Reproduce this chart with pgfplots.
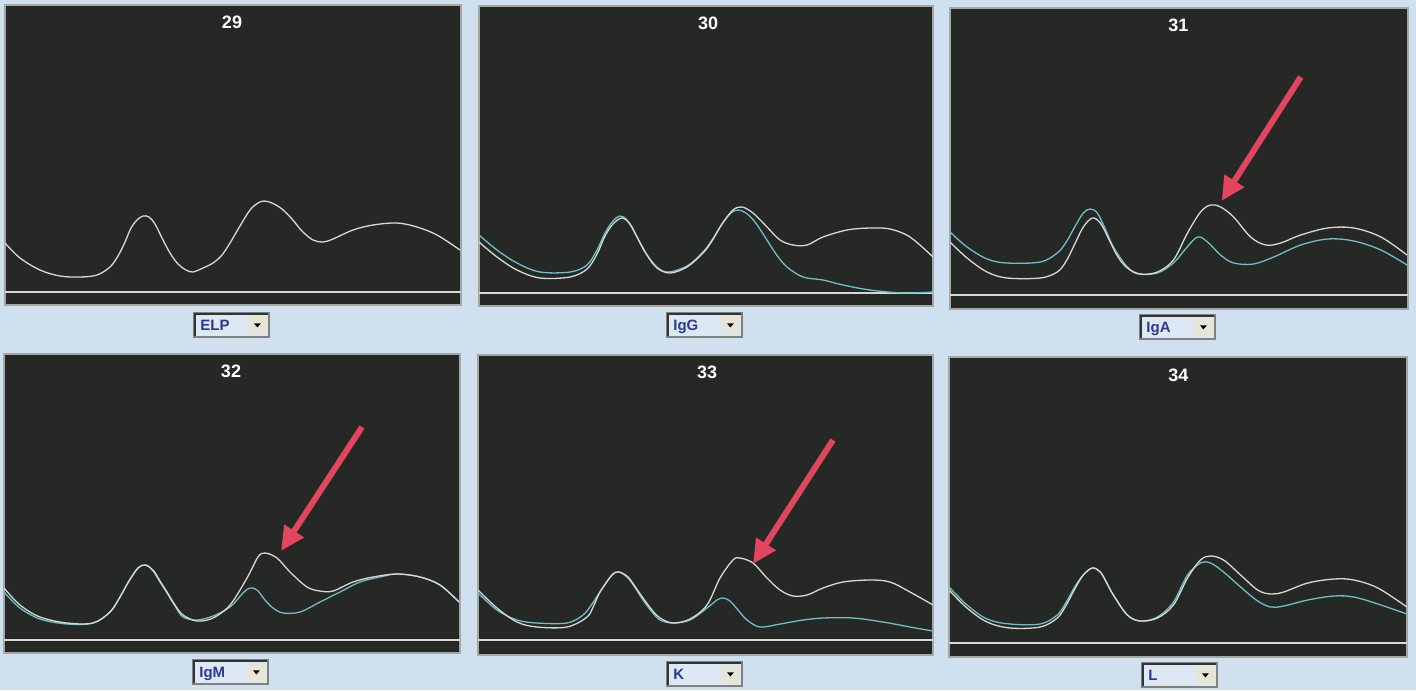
\documentclass[border=0pt]{standalone}
\usepackage{fontspec}
\setmainfont{Liberation Sans}
\usepackage{pgfplots}
\pgfplotsset{compat=1.18}
\usetikzlibrary{arrows.meta}
\definecolor{bgblue}{HTML}{CFE0EF}
\definecolor{panel}{HTML}{262826}
\definecolor{curvew}{HTML}{D6D9D6}
\definecolor{curvec}{HTML}{72BEC6}
\definecolor{arrowred}{HTML}{E2455E}
\definecolor{boxtext}{HTML}{2B3990}
\definecolor{boxfill}{HTML}{DCE8F3}
\definecolor{btn}{HTML}{E6E6D6}
\pgfplotsset{
  panel/.style={scale only axis, y dir=reverse, anchor=north west,
    axis background/.style={fill=panel},
    axis line style={draw=gray!70, line width=0.6pt},
    xtick=\empty, ytick=\empty, clip=true},
  wcurve/.style={curvew, line width=0.65pt, smooth, tension=0.55},
  ccurve/.style={curvec, line width=0.65pt, smooth, tension=0.55},
  base/.style={curvew, line width=0.8pt}
}
\tikzset{
  ptitle/.style={text=white, font=\bfseries\fontsize{9}{9}\selectfont},
  redarrow/.style={arrowred, line width=3pt, -{Triangle[length=12pt,width=11pt]}}
}
\newcommand\dropdown[3]{%
  \begin{scope}[shift={(#1*0.5pt,-#2*0.5pt)}]
    \fill[boxfill] (0,0) rectangle (37.5pt,-12pt);
    \draw[gray, line width=0.6pt] (0,0) rectangle (37.5pt,-12pt);
    \draw[gray!40!black, line width=0.7pt] (0.4pt,-11.6pt) -- (0.4pt,-0.4pt) -- (37pt,-0.4pt);
    \fill[btn] (27pt,-1.3pt) rectangle (36.3pt,-10.7pt);
    \fill[black] (30pt,-5.2pt) -- (33.4pt,-5.2pt) -- (31.7pt,-7.2pt) -- cycle;
    \node[anchor=base west, inner sep=0pt, text=boxtext, font=\bfseries\fontsize{7.5}{7.5}\selectfont] at (3pt,-8.7pt) {#3};
  \end{scope}}
\begin{document}
\begin{tikzpicture}
\fill[bgblue] (0,0) rectangle (708pt,-345pt);
\useasboundingbox (0,0) rectangle (708pt,-345pt);

% Panel 29
\begin{axis}[panel, at={(2.5pt,-2.5pt)}, width=228pt, height=150pt,
  xmin=5, xmax=461, ymin=5, ymax=305]
\addplot[base] coordinates {(5,292) (461,292)};
\addplot[wcurve] coordinates {(5,243) (20,258) (40,270) (60,276) (80,277) (97,275) (110,267) (118,256) (125,242) (131,228) (137,220) (143,216) (149,217) (155,224) (162,238) (170,253) (178,264) (186,270) (193,272) (203,268) (213,263) (222,255) (230,243) (240,226) (250,210) (258,203) (264,201) (272,203) (282,209) (292,219) (302,231) (313,240) (323,242) (333,239) (353,230) (373,225) (397,223) (417,227) (437,235) (460,250)};
\node[ptitle] at (axis cs:232,22) {29};
\end{axis}

% Panel 30
\begin{axis}[panel, at={(239.5pt,-3pt)}, width=227pt, height=150pt,
  xmin=479, xmax=933, ymin=6, ymax=306]
\addplot[base] coordinates {(479,293) (933,293)};
\addplot[ccurve] coordinates {(479,235) (497,250) (517,263) (540,272) (570,272) (587,265) (597,250) (605,233) (613,221) (620,216) (627,220) (635,233) (645,252) (657,267) (668,272) (687,266) (703,252) (712,240) (722,224) (731,213) (738,210) (746,213) (755,222) (765,237) (776,254) (787,267) (803,277) (823,280) (843,285) (870,290) (903,293) (933,292)};
\addplot[wcurve] coordinates {(479,242) (497,257) (517,270) (540,278) (570,277) (587,269) (597,254) (605,236) (613,224) (622,218) (630,224) (637,237) (647,255) (657,268) (670,273) (687,267) (703,253) (712,241) (722,224) (733,210) (742,207) (753,213) (767,227) (780,240) (793,245) (807,245) (823,237) (847,230) (870,228) (890,229) (910,237) (933,257)};
\node[ptitle] at (axis cs:708,23) {30};
\end{axis}

% Panel 31
\begin{axis}[panel, at={(475pt,-4pt)}, width=228.5pt, height=150.5pt,
  xmin=950, xmax=1407, ymin=8, ymax=309]
\addplot[base] coordinates {(950,295) (1407,295)};
\addplot[ccurve] coordinates {(950,232) (967,247) (987,259) (1007,263) (1040,262) (1057,253) (1066,242) (1075,226) (1083,213) (1090,209) (1097,213) (1105,229) (1113,247) (1127,267) (1138,274) (1157,273) (1173,263) (1185,249) (1197,237) (1207,242) (1220,255) (1233,263) (1253,264) (1273,257) (1300,245) (1327,239) (1353,241) (1380,250) (1406,265)};
\addplot[wcurve] coordinates {(950,242) (967,258) (987,272) (1007,278) (1040,278) (1057,272) (1066,261) (1075,243) (1083,227) (1092,218) (1100,223) (1108,238) (1117,256) (1127,268) (1140,274) (1157,272) (1173,260) (1187,233) (1200,212) (1210,205) (1220,207) (1233,217) (1250,237) (1265,245) (1280,243) (1300,235) (1327,228) (1353,228) (1380,237) (1406,255)};
\draw[redarrow] (axis cs:1300,77) -- (axis cs:1221,201);
\node[ptitle] at (axis cs:1178,25) {31};
\end{axis}

% Panel 32
\begin{axis}[panel, at={(2pt,-177pt)}, width=228pt, height=149.5pt,
  xmin=4, xmax=460, ymin=354, ymax=653]
\addplot[base] coordinates {(4,640) (460,640)};
\addplot[ccurve] coordinates {(4,592) (20,608) (40,619) (67,624) (93,623) (110,612) (120,597) (129,581) (138,568) (146,565) (153,571) (160,582) (167,593) (175,606) (183,617) (197,620) (213,616) (230,607) (243,593) (250,588) (257,590) (265,600) (273,608) (283,613) (300,612) (320,602) (340,592) (360,582) (380,577) (397,574) (420,577) (440,585) (459,602)};
\addplot[wcurve] coordinates {(4,588) (20,605) (40,617) (67,623) (93,623) (110,612) (120,597) (129,581) (138,568) (145,565) (153,570) (160,581) (167,592) (175,605) (183,615) (197,621) (213,618) (230,605) (247,578) (258,557) (265,553) (277,558) (290,572) (307,587) (320,591) (333,591) (353,582) (373,577) (397,574) (420,577) (440,585) (459,602)};
\draw[redarrow] (axis cs:362,427) -- (axis cs:281,551);
\node[ptitle] at (axis cs:231,371) {32};
\end{axis}

% Panel 33
\begin{axis}[panel, at={(239pt,-177.5pt)}, width=227.5pt, height=150pt,
  xmin=478, xmax=933, ymin=355, ymax=655]
\addplot[base] coordinates {(478,640) (933,640)};
\addplot[ccurve] coordinates {(478,593) (497,610) (517,620) (537,623) (567,623) (583,615) (592,604) (600,592) (612,575) (619,572) (628,578) (636,589) (643,600) (652,612) (660,620) (673,623) (690,620) (707,608) (717,600) (723,598) (730,601) (738,610) (747,620) (760,627) (780,624) (803,620) (823,618) (853,618) (883,622) (910,627) (933,631)};
\addplot[wcurve] coordinates {(478,590) (497,608) (517,622) (537,627) (567,627) (587,617) (594,605) (600,592) (612,575) (619,572) (628,577) (636,588) (643,598) (652,610) (660,618) (673,623) (690,619) (707,605) (720,578) (733,560) (740,558) (753,563) (767,578) (780,590) (793,596) (807,595) (823,588) (843,582) (870,580) (890,582) (910,592) (933,605)};
\draw[redarrow] (axis cs:833,440) -- (axis cs:753,564);
\node[ptitle] at (axis cs:707,372) {33};
\end{axis}

% Panel 34
\begin{axis}[panel, at={(474.5pt,-178.5pt)}, width=228.5pt, height=150pt,
  xmin=949, xmax=1406, ymin=357, ymax=657]
\addplot[base] coordinates {(949,643) (1406,643)};
\addplot[ccurve] coordinates {(949,587) (967,605) (987,619) (1010,624) (1040,624) (1057,615) (1066,602) (1075,586) (1083,575) (1092,568) (1100,572) (1107,584) (1113,595) (1127,615) (1140,621) (1157,617) (1173,602) (1187,575) (1200,563) (1210,563) (1223,572) (1240,587) (1257,601) (1270,607) (1283,606) (1307,600) (1333,596) (1353,597) (1377,604) (1406,614)};
\addplot[wcurve] coordinates {(949,590) (967,608) (987,622) (1010,628) (1040,627) (1057,618) (1066,605) (1075,588) (1083,575) (1092,568) (1100,572) (1107,584) (1113,595) (1127,615) (1140,621) (1157,618) (1173,605) (1187,578) (1200,560) (1210,556) (1223,560) (1240,575) (1257,590) (1270,594) (1283,592) (1307,583) (1333,579) (1353,580) (1377,588) (1406,607)};
\node[ptitle] at (axis cs:1178,375) {34};
\end{axis}

\dropdown{194}{313}{ELP}
\dropdown{667}{313}{IgG}
\dropdown{1140}{315}{IgA}
\dropdown{193}{660}{IgM}
\dropdown{667}{662}{K}
\dropdown{1142}{663}{L}
\end{tikzpicture}
\end{document}
